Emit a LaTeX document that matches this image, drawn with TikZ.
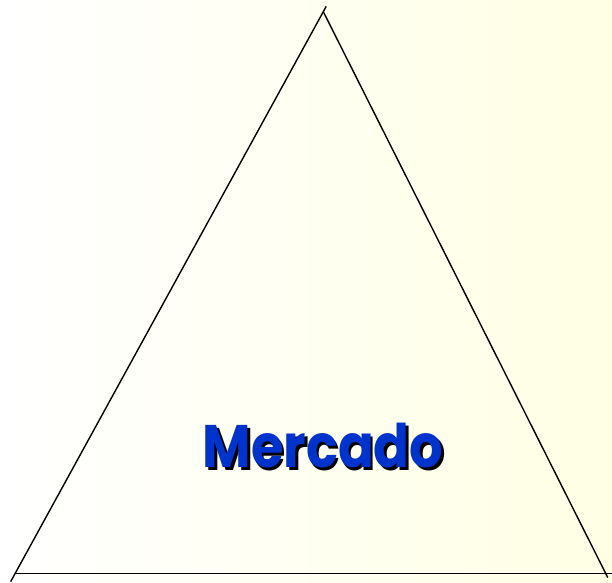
\documentclass[tikz,border=0pt]{standalone}
\usepackage{xcolor}
\usepackage{fontspec}
\usepackage{tikz}
\usetikzlibrary{calc}
\newfontfamily\comicfont{Poppins}
\definecolor{paperleft}{RGB}{255,255,255}
\definecolor{paperright}{RGB}{255,255,228}
\definecolor{mercadoblue}{RGB}{0,51,204}

\begin{document}
\begin{tikzpicture}[x=1pt, y=-1pt, side/.style={draw=black, line width=1.4pt}, title/.style={font=\comicfont\fontsize{60}{66}\selectfont\bfseries, inner sep=0pt, anchor=base, xscale=0.88}]
\shade[left color=paperleft, right color=paperright] (0,0) rectangle (612,582);
\useasboundingbox (0,0) rectangle (612,582);
\coordinate (apex) at (323.3,11.7);
\coordinate (bl) at (15,573.7);
\coordinate (br) at (606,574);
\coordinate (bend) at (614,573.7);
\draw[side, shorten <=-9pt, shorten >=-6pt] (bl) -- (apex);
\draw[side, shorten >=-4pt] (apex) -- (br);
\draw[side] (bl) -- (bend);
\node[title, text=black] (shadow) at (325.5,470) {Mercado};
\node[title, text=mercadoblue] (label) at (323,467.5) {Mercado};
\end{tikzpicture}
\end{document}
